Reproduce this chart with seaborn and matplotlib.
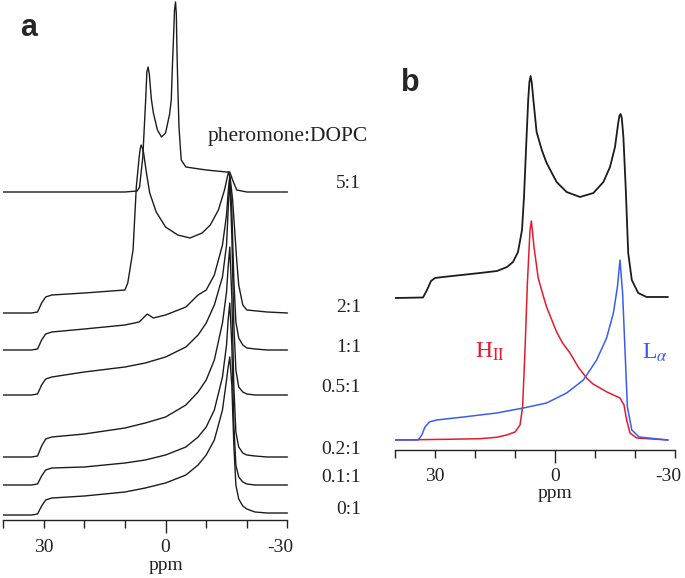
import numpy as np
import matplotlib
matplotlib.use("Agg")
import matplotlib.pyplot as plt
import matplotlib.transforms as mtransforms
import seaborn as sns

# ---- panel a: 31P spectra for pheromone:DOPC ratios (intensity) ----
ppm_std = [40, 33, 31.5, 30.5, 29.5, 28, 20, 10, 5, 0, -5, -8, -10, -12, -14, -15, -15.4,
           -15.8, -16.3, -16.8, -17.3, -18, -19, -20, -22, -25, -30]
int_0_1 = [0, 0, 1, 9, 15, 17, 19, 23, 27, 32, 40, 50, 60, 75, 105, 135, 148,
           158, 130, 70, 30, 16, 9, 6, 3, 2, 2]
int_01_1 = [0, 0, 1, 9, 15, 17, 18, 22, 25, 30, 38, 48, 58, 75, 108, 140, 165,
            182, 140, 60, 20, 8, 3, 1, 0, 0, 0]
int_02_1 = [0, 0, 1, 11, 18, 20, 23, 29, 34, 40, 52, 65, 77, 97, 134, 165, 190,
            210, 160, 70, 25, 10, 4, 2, 1, 0, 0]
int_05_1 = [0, 0, 1, 10, 16, 18, 23, 28, 32, 38, 48, 60, 72, 90, 118, 150, 185,
            217, 160, 70, 25, 8, 3, 1, 0, 0, 0]

ppm_1_1 = [40, 33, 31.5, 30.5, 29.5, 28, 20, 10, 6.5, 4.5, 3, 0, -5, -8, -10, -12, -14, -15,
           -15.4, -15.8, -16.3, -16.8, -17.3, -18, -19, -20, -22, -25, -30]
int_1_1 = [0, 0, 1, 10, 16, 18, 21, 25, 28, 36, 32, 35, 43, 55, 60, 75, 105, 135,
           158, 174, 140, 70, 28, 12, 5, 2, 1, 0, 0]

ppm_2_1 = [40, 33, 31.5, 30.5, 29.5, 28, 20, 10, 9.3, 8.0, 7.2, 6.5, 6.2, 6.0, 5.7, 5.4, 4.7,
           3.9, 2.3, 0, -3, -6, -9, -11, -13, -14.5, -15.2, -15.5, -15.9, -16.5, -17.5, -18,
           -19, -20, -25, -30]
int_2_1 = [0, 0, 1, 10, 16, 18, 20, 23, 30, 63, 126, 156, 165, 168, 165, 160, 140,
           120, 101, 86, 78, 75, 80, 88, 103, 123, 136, 141, 135, 113, 53, 28,
           8, 3, 1, 0]

ppm_5_1 = [40, 10, 7, 6.4, 5.6, 4.9, 4.6, 4.3, 4.0, 3.5, 3, 2, 1, 0, -1, -1.4, -1.7, -2.0,
           -2.2, -2.45, -2.65, -2.8, -3.05, -3.3, -3.85, -5, -10, -15, -15.8, -16.5, -17.5,
           -20, -30]
int_5_1 = [0, 0, 1, 5, 35, 92, 120, 125, 118, 93, 79, 62, 55, 59, 78, 92, 128, 159,
           182, 190, 178, 142, 100, 65, 32, 25, 22, 20, 20, 12, 2,
           0, 0]

ratios = ["0:1", "0.1:1", "0.2:1", "0.5:1", "1:1", "2:1", "5:1"]
spectra_a = [(ppm_std, int_0_1), (ppm_std, int_01_1), (ppm_std, int_02_1),
             (ppm_std, int_05_1), (ppm_1_1, int_1_1), (ppm_2_1, int_2_1),
             (ppm_5_1, int_5_1)]
stack_a = [5, 35, 63, 125, 170, 207, 328]      # vertical offsets of the stack
label_y_a = [10, 42, 70, 133, 173, 213, 336]

# ---- panel b: spectrum and its H_II / L_alpha components ----
ppm_mix = [40, 33, 32, 31, 30, 28, 18.75, 14.5, 12, 10.5, 9.25, 8.25, 7.75, 7.25, 6.7, 6.4,
           6.1, 5.8, 5.4, 4.6, 3.3, 2.1, -0.4, -2.9, -6.25, -9.6, -12.1, -13.75, -15, -15.8,
           -16.1, -16.4, -16.7, -17.1, -17.7, -18.3, -19.2, -20.8, -22.9, -28.25]
int_mix = [0, 0.5, 8, 17, 20, 21, 25, 27, 31, 36, 46, 68, 101, 148, 198, 216,
           222, 215, 198, 166, 148, 135, 116, 106, 101, 105, 116, 131, 151, 175,
           182, 184, 180, 161, 108, 45, 18, 5, 1, 1]

ppm_hex = [40, 27, 18.75, 14.6, 12.1, 10, 8.75, 8.1, 7.5, 6.9, 6.25, 5.9, 5.25, 4.2, 3.0,
           2.1, -0.4, -1.9, -3.75, -5.8, -7.9, -9.5, -11.25, -13, -14.6, -16.25, -17.25,
           -17.9, -18.75, -20.4, -28.25]
int_hex = [0, 0.7, 1.3, 2.7, 5, 8, 15, 33, 90, 157, 210, 219, 193, 162, 145,
           133, 108, 97, 87, 73, 62, 56, 52, 48, 45, 42, 35,
           20, 7, 2, 0]

ppm_lam = [40, 34.2, 33.3, 32.5, 31.4, 29.6, 22.9, 14.6, 7.9, 2.1, -2.9, -7.1, -10.4, -12.9,
           -14.6, -15.6, -16.25, -16.9, -17.5, -18.1, -19.2, -21, -28.25]
int_lam = [0, 0, 5, 13, 18, 20, 23, 27, 32, 37, 47, 60, 80, 102,
           127, 153, 180, 147, 90, 33, 10, 3, 0]

sns.set_style("white")
plt.rcParams["font.family"] = ["Liberation Serif", "DejaVu Serif"]
plt.rcParams["mathtext.fontset"] = "stix"

W, H = 685, 578
fig = plt.figure(figsize=(W / 100, H / 100), dpi=100)

def px_axes(left, right, bottom_line, top):
    return fig.add_axes([left / W, 1 - bottom_line / H, (right - left) / W, (bottom_line - top) / H])

def style_axis(ax, pad_extra=0):
    for s in ["left", "right", "top"]:
        ax.spines[s].set_visible(False)
    ax.spines["bottom"].set_bounds(40, -30)
    ax.spines["bottom"].set_linewidth(1.0)
    ax.spines["bottom"].set_color("#222222")
    ax.set_yticks([])
    ax.set_xticks([0])
    ax.set_xticks([40, 30, 20, 10, -10, -20, -30], minor=True)
    ax.set_xticklabels(["0"])
    ax.set_xticklabels(["", "30", "", "", "", "", "-30"], minor=True)
    ax.tick_params(axis="x", which="both", bottom=True, top=False)
    ax.tick_params(axis="x", which="major", direction="out", length=9, width=1.0,
                   pad=2.5 + pad_extra, labelsize=14, colors="#222222")
    ax.tick_params(axis="x", which="minor", direction="out", length=5.5, width=1.0,
                   pad=6 + pad_extra, labelsize=14, colors="#222222")
    # the "-30" label sits a little left of its tick
    shift = mtransforms.ScaledTranslation(-7 / 100, 0, fig.dpi_scale_trans)
    lab = ax.xaxis.get_minorticklabels()[-1]
    lab.set_transform(lab.get_transform() + shift)
    ax.set_xlabel("")
    ax.set_ylabel("")

# panel a
ax_a = px_axes(3, 370, 520, 0)
for (ppm, inten), off in zip(spectra_a, stack_a):
    sns.lineplot(x=ppm, y=np.array(inten) + off, ax=ax_a, color="#1c1c1c",
                 lw=1.0, sort=False, estimator=None)
ax_a.set_xlim(40, -30 - (370 - 287.5) / 4.064)
ax_a.set_ylim(0, 520)
style_axis(ax_a, pad_extra=2.5)
for lab, ly in zip(ratios, label_y_a):
    ax_a.text(-48.1, ly, lab, ha="right", va="center", fontsize=14, color="#222222")
ax_a.text(-49.8, 383, "pheromone:DOPC", ha="right", va="center", fontsize=15.5, color="#222222")
ax_a.annotate("ppm", xy=(0, 0), xycoords=("data", "axes fraction"), xytext=(0, -33),
              textcoords="offset points", ha="center", va="center", fontsize=14, color="#222222")

# panel b
ax_b = px_axes(395, 685, 450, 0)
sns.lineplot(x=ppm_mix, y=np.array(int_mix) + 152, ax=ax_b, color="#1c1c1c",
             lw=1.3, sort=False, estimator=None)
sns.lineplot(x=ppm_hex, y=np.array(int_hex) + 10, ax=ax_b, color="#e41b2e",
             lw=1.1, sort=False, estimator=None)
sns.lineplot(x=ppm_lam, y=np.array(int_lam) + 10, ax=ax_b, color="#3b5cf2",
             lw=1.1, sort=False, estimator=None)
ax_b.set_xlim(40, -32.5)
ax_b.set_ylim(0, 450)
style_axis(ax_b, pad_extra=1.5)
ax_b.text(16.25, 98, r"H$_{\mathrm{II}}$", ha="center", va="center", fontsize=17, color="#e41b2e")
ax_b.text(-25, 97, r"L$_{\alpha}$", ha="center", va="center", fontsize=17, color="#3b5cf2")
ax_b.annotate("ppm", xy=(0, 0), xycoords=("data", "axes fraction"), xytext=(0, -31),
              textcoords="offset points", ha="center", va="center", fontsize=14, color="#222222")

fig.text(29 / W, 1 - 28 / H, "a", ha="center", va="center", fontsize=22,
         fontweight="bold", family="Liberation Sans")
fig.text(410 / W, 1 - 83 / H, "b", ha="center", va="center", fontsize=22,
         fontweight="bold", family="Liberation Sans")

fig.savefig("out.png", dpi=100)
